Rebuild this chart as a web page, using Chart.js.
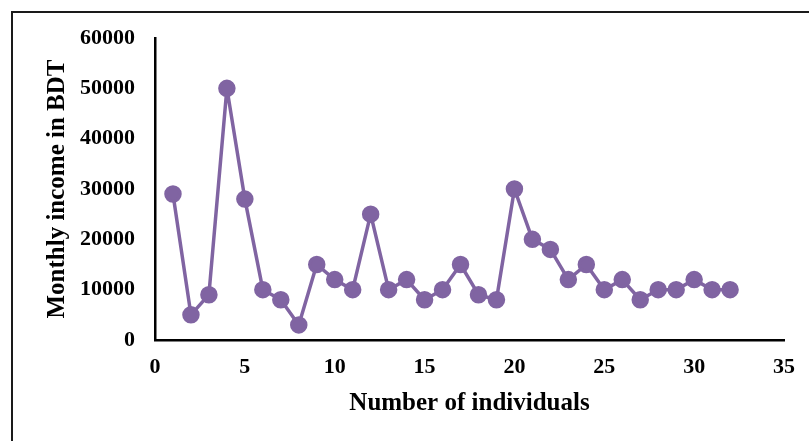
<!DOCTYPE html>
<html>
<head>
<meta charset="utf-8">
<script src="https://cdn.jsdelivr.net/npm/chart.js@4.4.0/dist/chart.umd.min.js"></script>
<style>
    html, body { margin: 0; padding: 0; background: #fff; }
    #wrap { position: relative; width: 809px; height: 441px; overflow: hidden; }
    #frame {
        position: absolute; left: 11px; top: 11px; width: 900px; height: 900px;
        border: 2px solid #1a1a1a; pointer-events: none;
    }
</style>
</head>
<body>
<div id="wrap">
    <canvas id="income_chart" width="809" height="441"></canvas>
    <div id="frame"></div>
</div>
<script>
// individuals numbered 1..32
const individuals = [1, 2, 3, 4, 5, 6, 7, 8, 9, 10, 11, 12, 13, 14, 15, 16,
    17, 18, 19, 20, 21, 22, 23, 24, 25, 26, 27, 28, 29, 30, 31, 32];
// monthly income (BDT)
const income = [29000, 5000, 9000, 50000, 28000, 10000, 8000, 3000, 15000, 12000, 10000, 25000,
    10000, 12000, 8000, 10000, 15000, 9000, 8000, 30000, 20000, 18000, 12000, 15000,
    10000, 12000, 8000, 10000, 10000, 12000, 10000, 10000];
const xTicks = [0, 5, 10, 15, 20, 25, 30, 35];
const yTicks = [0, 10000, 20000, 30000, 40000, 50000, 60000];

const lineColor = '#8064a2';
const tickFont = { family: '"Liberation Serif", "Times New Roman", serif', size: 22, weight: 'bold' };
const titleFont = { family: '"Liberation Serif", "Times New Roman", serif', size: 25, weight: 'bold' };

let points = individuals.map(function (x, i) {
    return { x: x, y: income[i] };
});

let ctx = document.getElementById('income_chart').getContext('2d');

new Chart(ctx, {
    type: 'scatter',
    data: {
        datasets: [{
            data: points,
            showLine: true,
            borderColor: lineColor,
            backgroundColor: lineColor,
            borderWidth: 3.5,
            borderJoinStyle: 'round', // no spikes on the sharp peaks
            pointRadius: 7,
            pointHoverRadius: 7,
        }],
    },
    options: {
        responsive: false,
        animation: false,
        layout: {
            padding: { left: 34, right: 24, top: 38, bottom: 20 },
        },
        plugins: {
            legend: { display: false },
            tooltip: { enabled: false },
        },
        scales: {
            x: {
                type: 'linear',
                min: 0,
                max: 35,
                afterBuildTicks: function (scale) {
                    scale.ticks = xTicks.map(function (v) { return { value: v }; });
                },
                afterFit: function (scale) { scale.height = 81; },
                grid: { display: false, drawTicks: false },
                border: { display: true, color: '#000', width: 2.5 },
                ticks: { color: '#000', font: tickFont, padding: 14, maxRotation: 0 },
                title: {
                    display: true,
                    text: 'Number of individuals',
                    color: '#000',
                    font: titleFont,
                    padding: { top: 0, bottom: 2 },
                },
            },
            y: {
                type: 'linear',
                min: 0,
                max: 60000,
                afterBuildTicks: function (scale) {
                    scale.ticks = yTicks.map(function (v) { return { value: v }; });
                },
                afterFit: function (scale) { scale.width = 121; },
                grid: { display: false, drawTicks: false },
                border: { display: true, color: '#000', width: 2.5 },
                ticks: {
                    color: '#000',
                    font: tickFont,
                    padding: 20,
                    callback: function (v) { return String(v); },
                },
                title: {
                    display: true,
                    text: 'Monthly income in BDT',
                    color: '#000',
                    font: titleFont,
                    padding: { top: 9, bottom: 0 },
                },
            },
        },
    },
});
</script>
</body>
</html>
